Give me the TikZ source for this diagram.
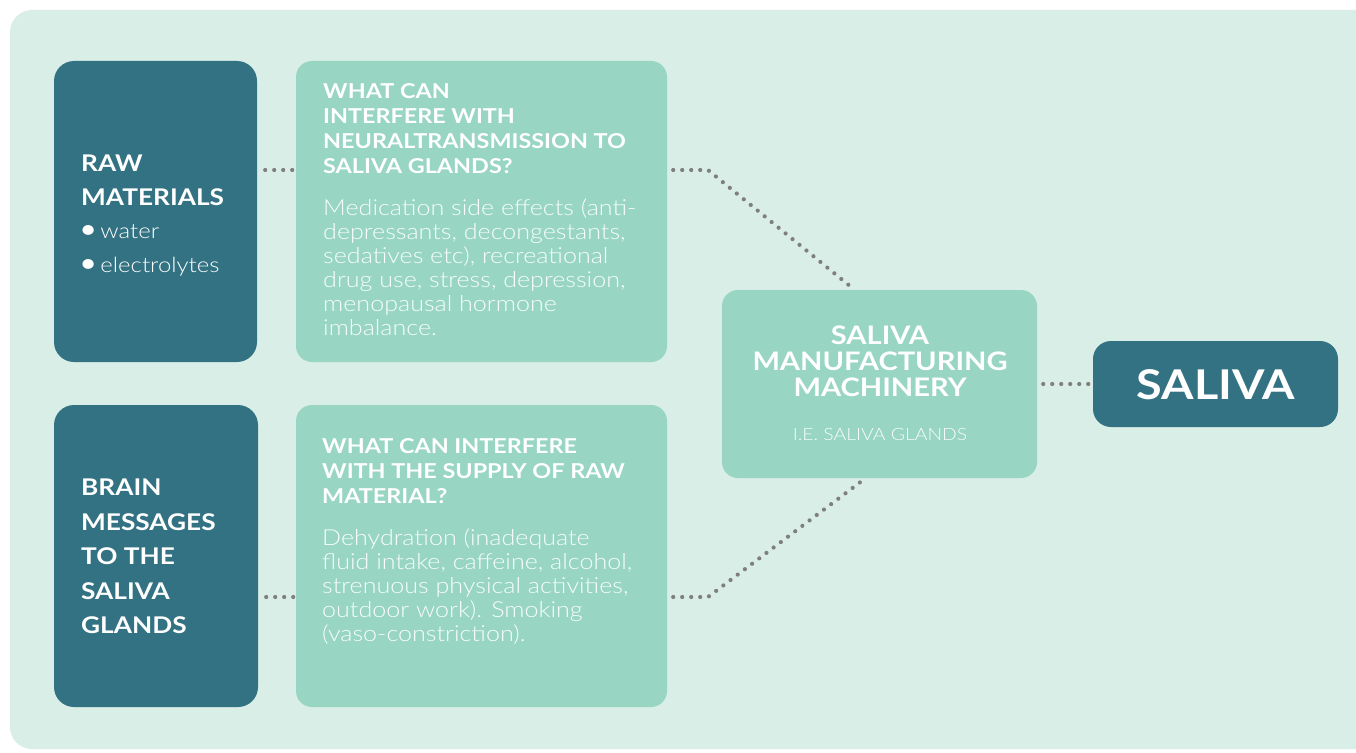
\documentclass[tikz,border=0pt]{standalone}
\usepackage{graphicx}
\usepackage{fontspec}
\setmainfont{Lato}[FakeStretch=1.14]
\newfontfamily\lightf{Lato Light}[FakeStretch=1.14]
\definecolor{bgc}{HTML}{D9EEE6}
\definecolor{darkc}{HTML}{337283}
\definecolor{lightc}{HTML}{98D5C2}
\definecolor{dotc}{HTML}{7F7F7F}
\definecolor{bodyc}{HTML}{F8FDFB}
\tikzset{
  darkbox/.style={fill=darkc, rounded corners=20pt, inner sep=0pt, draw=none},
  lightbox/.style={fill=lightc, rounded corners=16pt, inner sep=0pt, draw=none},
  dotline/.style={draw=dotc, line width=4.2pt, line cap=round, dash pattern=on 0pt off 9pt},
  txt/.style={inner sep=0pt, align=left, anchor=north west, text=white},
}
\newcommand{\bul}[1]{{\lightf\mdseries\fontsize{21}{33.5}\selectfont\hspace*{-4pt}\raisebox{-2pt}{\scalebox{1.6}{\textbullet}}\kern1pt #1}}
\begin{document}
\begin{tikzpicture}[x=1pt,y=-1pt]
\useasboundingbox (0,0) rectangle (1356,752);
\fill[white] (0,0) rectangle (1356,752);
\fill[bgc, rounded corners=22pt] (10,10) rectangle (1420,749);

% boxes
\node[darkbox, minimum width=203, minimum height=301] (raw) at (155.5,211.5) {};
\node[darkbox, minimum width=204, minimum height=302] (brain) at (156,556) {};
\node[lightbox, minimum width=371, minimum height=301] (q1) at (481.5,211.5) {};
\node[lightbox, minimum width=371, minimum height=302] (q2) at (481.5,556) {};
\node[lightbox, minimum width=315, minimum height=188] (mach) at (879.5,384) {};
\node[darkbox, rounded corners=18pt, minimum width=245, minimum height=86] (sal) at (1215.5,384) {};

% texts
\node[txt, font=\bfseries\fontsize{23}{33.5}\selectfont] (rawt) at (81,155)
  {RAW\\MATERIALS\\\bul{water}\\\bul{electrolytes}};
\node[txt, font=\bfseries\fontsize{23}{34.5}\selectfont] (braint) at (81,479)
  {BRAIN\\MESSAGES\\TO THE\\SALIVA\\GLANDS};
\node[txt, font=\bfseries\fontsize{20.5}{25}\selectfont] (q1h) at (323,83)
  {WHAT CAN\\INTERFERE WITH\\NEURALTRANSMISSION TO\\SALIVA GLANDS?};
\node[txt, text=bodyc, font=\lightf\fontsize{22}{24}\selectfont] (q1b) at (323,199)
  {Medication side effects (anti-\\depressants, decongestants,\\sedatives etc), recreational\\drug use, stress, depression,\\menopausal hormone\\imbalance.};
\node[txt, font=\bfseries\fontsize{20.5}{25}\selectfont] (q2h) at (322,438.5)
  {WHAT CAN INTERFERE\\WITH THE SUPPLY OF RAW\\MATERIAL?};
\node[txt, text=bodyc, font=\lightf\fontsize{22}{24}\selectfont] (q2b) at (322,528.5)
  {Dehydration (inadequate\\fluid intake, caffeine, alcohol,\\strenuous physical activities,\\outdoor work). Smoking\\(vaso-constriction).};
\node[txt, anchor=north, align=center, font=\bfseries\fontsize{25.5}{26}\selectfont] (macht) at (880,326)
  {SALIVA\\MANUFACTURING\\MACHINERY};
\node[txt, anchor=north, align=center, text=bodyc, font=\lightf\fontsize{17}{18}\selectfont] (machs) at (880,428)
  {I.E. SALIVA GLANDS};
\node[inner sep=0pt, text=white, font=\bfseries\fontsize{41}{42}\selectfont] (salt) at (1215.5,385) {SALIVA};

% connectors
\coordinate (y1) at (0,170);
\coordinate (y2) at (0,597);
\coordinate (k1) at (708,170);
\coordinate (k2) at (708,597);
\draw[dotline] ([xshift=8pt]raw.east |- y1) -- ([xshift=-2pt]q1.west |- y1);
\draw[dotline] ([xshift=8pt]brain.east |- y2) -- ([xshift=-2pt]q2.west |- y2);
\draw[dotline] ([xshift=6pt]q1.east |- y1) -- (k1) -- ([xshift=-25pt]mach.north);
\draw[dotline] ([xshift=6pt]q2.east |- y2) -- (k2) -- ([xshift=-14pt]mach.south);
\draw[dotline] ([xshift=6pt]mach.east) -- ([xshift=-4pt]sal.west);
\end{tikzpicture}
\end{document}
